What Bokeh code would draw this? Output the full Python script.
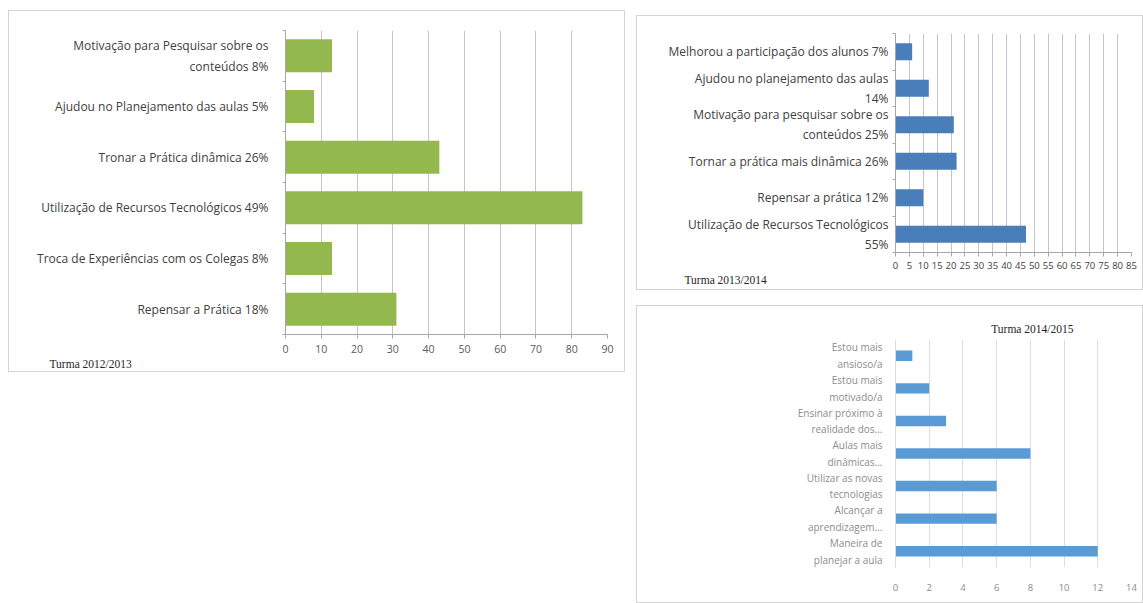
from bokeh.plotting import figure
from bokeh.models import ColumnDataSource, Range1d, FixedTicker, Spacer, Title
from bokeh.layouts import row, column
from bokeh.embed import file_html
from bokeh.resources import INLINE

# ---- data ----
cats1 = ["Motivação para Pesquisar sobre os\nconteúdos 8%",
         "Ajudou no Planejamento das aulas 5%",
         "Tronar a Prática dinâmica 26%",
         "Utilização de Recursos Tecnológicos 49%",
         "Troca de Experiências com os Colegas 8%",
         "Repensar a Prática 18%"]
vals1 = [13, 8, 43, 83, 13, 31]
ticks1 = [0, 10, 20, 30, 40, 50, 60, 70, 80, 90]
title1 = "Turma 2012/2013"

cats2 = ["Melhorou a participação dos alunos 7%",
         "Ajudou no planejamento das aulas\n14%",
         "Motivação para pesquisar sobre os\nconteúdos 25%",
         "Tornar a prática mais dinâmica 26%",
         "Repensar a prática 12%",
         "Utilização de Recursos Tecnológicos\n55%"]
vals2 = [6, 12, 21, 22, 10, 47]
ticks2 = [0, 5, 10, 15, 20, 25, 30, 35, 40, 45, 50, 55, 60, 65, 70, 75, 80, 85]
title2 = "Turma 2013/2014"

cats3 = ["Estou mais\nansioso/a",
         "Estou mais\nmotivado/a",
         "Ensinar próximo à\nrealidade dos...",
         "Aulas mais\ndinâmicas...",
         "Utilizar as novas\ntecnologias",
         "Alcançar a\naprendizagem...",
         "Maneira de\nplanejar a aula"]
vals3 = [1, 2, 3, 8, 6, 6, 12]
ticks3 = [0, 2, 4, 6, 8, 10, 12, 14]
title3 = "Turma 2014/2015"


def make_chart(cats, vals, ticks, width, height, borders, color, bar_h,
               grid_color, label_font, label_color, tick_font, tick_color,
               y_standoff, x_standoff, axis_color, show_y_ticks, show_x_axis_line,
               border_css):
    n = len(cats)
    ys = [n - i for i in range(n)]
    src = ColumnDataSource(dict(y=ys, v=vals))
    p = figure(width=width, height=height, output_backend="svg", toolbar_location=None,
               x_range=Range1d(ticks[0], ticks[-1]), y_range=Range1d(0.5, n + 0.5),
               min_border_left=borders[0], min_border_right=borders[1],
               min_border_top=borders[2], min_border_bottom=borders[3],
               styles=border_css)
    p.outline_line_color = None
    p.background_fill_color = "white"
    p.border_fill_color = "white"
    p.hbar(y="y", right="v", left=0, height=bar_h, source=src,
           fill_color=color, line_color=None)

    # x axis
    p.xaxis.ticker = FixedTicker(ticks=ticks)
    p.xaxis.major_label_text_font = "Open Sans"
    p.xaxis.major_label_text_font_size = tick_font
    p.xaxis.major_label_text_color = tick_color
    p.xaxis.major_label_standoff = x_standoff
    p.xaxis.minor_tick_line_color = None
    if show_x_axis_line:
        p.xaxis.axis_line_color = axis_color
        p.xaxis.major_tick_line_color = axis_color
        p.xaxis.major_tick_out = 4
        p.xaxis.major_tick_in = 0
    else:
        p.xaxis.axis_line_color = None
        p.xaxis.major_tick_line_color = None
    p.xgrid.ticker = FixedTicker(ticks=ticks)
    p.xgrid.grid_line_color = grid_color
    p.ygrid.grid_line_color = None

    # y axis (category labels)
    p.yaxis.ticker = FixedTicker(ticks=ys, minor_ticks=[k + 0.5 for k in range(n + 1)])
    p.yaxis.major_label_overrides = {y: c for y, c in zip(ys, cats)}
    p.yaxis.major_label_text_font = "Open Sans"
    p.yaxis.major_label_text_font_size = label_font
    p.yaxis.major_label_text_color = label_color
    p.yaxis.major_label_standoff = y_standoff
    p.yaxis.major_tick_line_color = None
    p.yaxis.major_tick_out = 0
    p.yaxis.major_tick_in = 0
    p.yaxis.axis_line_color = axis_color
    if show_y_ticks:
        p.yaxis.minor_tick_line_color = axis_color
        p.yaxis.minor_tick_out = 3
        p.yaxis.minor_tick_in = 0
    else:
        p.yaxis.minor_tick_line_color = None
    return p


css = {"border": "1px solid #d4d4d4", "box-sizing": "border-box"}

p1 = make_chart(cats1, vals1, ticks1, 617, 362, (276, 19, 19, 39), "#93B84E", 0.65,
                "#C4C4CC", "12px", "#404040", "10.5px", "#595959", 14, 6,
                "#A6A6A6", True, True, css)
p2 = make_chart(cats2, vals2, ticks2, 507, 275, (258, 11, 17, 39), "#4A7EBB", 0.46,
                "#C4C4CC", "12px", "#404040", "9.5px", "#404040", 4, 5,
                "#A6A6A6", True, True, css)
p3 = make_chart(cats3, vals3, ticks3, 507, 298, (106, 13, 33, 37), "#5B9BD5", 0.32,
                "#DDDDDD", "10px", "#8C8C8C", "9.5px", "#8C8C8C", 9, 10,
                "#DDDDDD", False, False, css)

# chart titles
p1.add_layout(Title(text=title1, align="left", offset=-236, text_font="Liberation Serif",
                    text_font_size="11.5px", text_color="#262626", text_font_style="normal",
                    standoff=0), "below")
p2.add_layout(Title(text=title2, align="left", offset=-211, text_font="Liberation Serif",
                    text_font_size="11.5px", text_color="#262626", text_font_style="normal",
                    standoff=0), "below")
p3.title.text = title3
p3.title.align = "right"
p3.title.offset = 58
p3.title.text_font = "Liberation Serif"
p3.title.text_font_size = "11.5px"
p3.title.text_font_style = "normal"
p3.title.text_color = "#262626"

layout = row(Spacer(width=8),
             column(Spacer(height=10), p1),
             Spacer(width=11),
             column(Spacer(height=15), p2, Spacer(height=15), p3))

open("out.html", "w").write(file_html(layout, INLINE))
